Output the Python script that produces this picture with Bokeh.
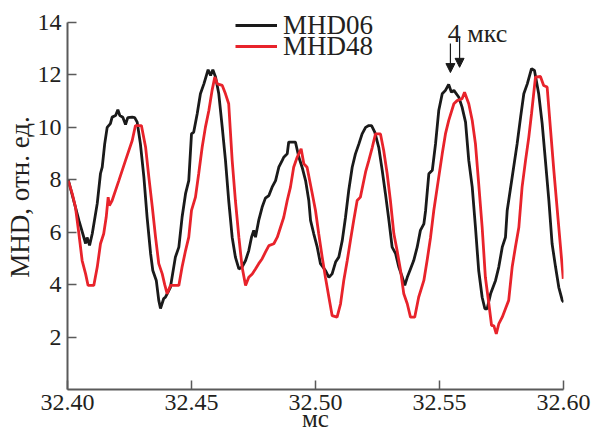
from bokeh.plotting import figure
from bokeh.models import (FixedTicker, Legend, LegendItem, Label, Arrow, NormalHead,
                          NumeralTickFormatter, Range1d)
from bokeh.embed import file_html
from bokeh.resources import INLINE

# ---- data (time in ms, MHD in relative units) ----
t_mhd06 = [32.4003, 32.4046, 32.4073, 32.4079, 32.4089, 32.4100, 32.4120, 32.4133, 32.4140, 32.4150,
           32.4160, 32.4173, 32.4180, 32.4194, 32.4203, 32.4211, 32.4223, 32.4234, 32.4243, 32.4261,
           32.4271, 32.4281, 32.4294, 32.4308, 32.4321, 32.4335, 32.4344, 32.4358, 32.4368, 32.4375,
           32.4388, 32.4395, 32.4415, 32.4435, 32.4449, 32.4462, 32.4476, 32.4489, 32.4500, 32.4509,
           32.4523, 32.4536, 32.4550, 32.4567, 32.4577, 32.4586, 32.4597, 32.4610, 32.4624, 32.4637,
           32.4650, 32.4664, 32.4677, 32.4691, 32.4704, 32.4718, 32.4731, 32.4742, 32.4751, 32.4758,
           32.4771, 32.4785, 32.4798, 32.4812, 32.4825, 32.4839, 32.4852, 32.4866, 32.4872, 32.4886,
           32.4892, 32.4919, 32.4933, 32.4946, 32.4960, 32.4973, 32.4980, 32.4993, 32.5007, 32.5020,
           32.5040, 32.5054, 32.5067, 32.5081, 32.5094, 32.5108, 32.5121, 32.5134, 32.5148, 32.5161,
           32.5175, 32.5188, 32.5202, 32.5215, 32.5226, 32.5239, 32.5255, 32.5269, 32.5282, 32.5296,
           32.5309, 32.5323, 32.5336, 32.5350, 32.5360, 32.5370, 32.5383, 32.5396, 32.5410, 32.5423,
           32.5437, 32.5444, 32.5457, 32.5471, 32.5484, 32.5497, 32.5511, 32.5524, 32.5537, 32.5548,
           32.5558, 32.5578, 32.5591, 32.5605, 32.5618, 32.5632, 32.5645, 32.5658, 32.5672, 32.5683,
           32.5692, 32.5706, 32.5726, 32.5739, 32.5753, 32.5766, 32.5773, 32.5793, 32.5813, 32.5827,
           32.5840, 32.5854, 32.5871, 32.5883, 32.5900, 32.5914, 32.5927, 32.5941, 32.5954, 32.5968,
           32.5981, 32.5995, 32.6001]
v_mhd06 = [8.0, 6.45, 5.57, 5.8, 5.5, 5.95, 7.1, 8.24, 8.48, 9.37,
           10.0, 10.14, 10.39, 10.45, 10.67, 10.45, 10.39, 10.11, 10.37, 10.39,
           10.37, 10.2, 9.37, 8.1, 6.57, 5.19, 4.54, 4.16, 3.4, 3.09,
           3.47, 3.52, 3.9, 5.05, 5.43, 6.57, 7.47, 7.97, 9.75, 9.82,
           10.52, 11.28, 11.66, 12.2, 11.98, 12.2, 11.92, 11.28, 10.0, 8.74,
           7.21, 5.81, 5.05, 4.6, 4.67, 4.92, 5.3, 5.81, 6.07, 5.81,
           6.45, 6.96, 7.3, 7.4, 7.72, 7.97, 8.48, 8.74, 8.86, 8.99,
           9.44, 9.44, 8.86, 8.48, 7.97, 7.21, 6.45, 5.94, 5.43, 4.8,
           4.54, 4.28, 4.41, 4.86, 5.05, 5.69, 6.57, 7.59, 8.48, 8.99,
           9.37, 9.75, 10.0, 10.07, 10.07, 9.82, 9.24, 8.36, 7.47, 6.45,
           5.43, 5.18, 4.67, 4.28, 3.97, 4.28, 4.6, 4.92, 5.43, 6.07,
           6.32, 6.83, 8.23, 8.36, 9.37, 10.64, 11.28, 11.41, 11.64, 11.34,
           11.41, 11.15, 10.77, 10.2, 8.74, 7.72, 6.19, 4.54, 3.52, 3.08,
           3.08, 3.65, 4.16, 4.67, 5.43, 5.81, 6.83, 8.1, 9.37, 10.39,
           11.28, 11.66, 12.24, 12.17, 11.28, 10.14, 8.74, 7.21, 5.56, 4.67,
           3.9, 3.4, 3.33]

t_mhd48 = [32.4003, 32.4019, 32.4032, 32.4046, 32.4059, 32.4073, 32.4083, 32.4106, 32.4120, 32.4133,
           32.4146, 32.4156, 32.4164, 32.4169, 32.4180, 32.4207, 32.4234, 32.4261, 32.4274, 32.4298,
           32.4315, 32.4328, 32.4342, 32.4355, 32.4368, 32.4382, 32.4392, 32.4402, 32.4415, 32.4449,
           32.4462, 32.4476, 32.4489, 32.4500, 32.4516, 32.4529, 32.4543, 32.4556, 32.4570, 32.4583,
           32.4594, 32.4604, 32.4624, 32.4637, 32.4650, 32.4664, 32.4677, 32.4691, 32.4704, 32.4718,
           32.4731, 32.4745, 32.4758, 32.4771, 32.4785, 32.4798, 32.4812, 32.4832, 32.4846, 32.4859,
           32.4872, 32.4886, 32.4899, 32.4912, 32.4926, 32.4942, 32.4953, 32.4966, 32.4987, 32.5000,
           32.5013, 32.5027, 32.5040, 32.5054, 32.5067, 32.5087, 32.5101, 32.5114, 32.5128, 32.5141,
           32.5154, 32.5168, 32.5181, 32.5202, 32.5215, 32.5229, 32.5242, 32.5262, 32.5275, 32.5289,
           32.5302, 32.5316, 32.5329, 32.5343, 32.5356, 32.5370, 32.5383, 32.5400, 32.5416, 32.5437,
           32.5450, 32.5464, 32.5477, 32.5491, 32.5511, 32.5524, 32.5537, 32.5558, 32.5571, 32.5591,
           32.5601, 32.5618, 32.5632, 32.5645, 32.5658, 32.5672, 32.5685, 32.5699, 32.5710, 32.5719,
           32.5729, 32.5739, 32.5753, 32.5766, 32.5779, 32.5793, 32.5806, 32.5820, 32.5833, 32.5847,
           32.5860, 32.5871, 32.5887, 32.5907, 32.5920, 32.5934, 32.5947, 32.5961, 32.5975, 32.5988,
           32.5999]
v_mhd48 = [7.97, 7.47, 6.96, 5.94, 4.92, 4.41, 3.97, 3.97, 4.67, 5.56,
           5.94, 6.57, 7.34, 7.02, 7.21, 7.97, 8.74, 9.5, 10.07, 10.07,
           9.24, 8.1, 6.96, 5.81, 4.8, 4.41, 4.0, 3.65, 3.97, 3.97,
           4.67, 5.3, 5.81, 6.83, 7.34, 8.23, 9.24, 10.0, 10.64, 11.41,
           11.92, 11.66, 11.6, 11.28, 10.9, 8.74, 7.21, 5.81, 4.67, 3.97,
           4.28, 4.41, 4.6, 4.8, 4.99, 5.24, 5.49, 5.56, 5.81, 6.19,
           6.57, 7.21, 7.72, 8.48, 8.86, 9.18, 8.61, 8.48, 7.47, 6.83,
           5.94, 5.05, 4.28, 3.52, 2.82, 2.76, 3.27, 4.16, 4.92, 5.69,
           6.45, 7.21, 7.34, 8.3, 8.74, 9.24, 9.75, 9.75, 9.12, 8.23,
           7.21, 5.94, 5.3, 4.54, 3.65, 3.27, 2.76, 2.76, 3.52, 4.16,
           4.92, 5.81, 6.83, 7.72, 8.99, 9.75, 10.26, 10.9, 11.02, 11.09,
           11.34, 10.9, 10.26, 9.37, 7.85, 6.19, 4.28, 3.27, 2.44, 2.44,
           2.12, 2.5, 2.76, 3.08, 3.4, 4.67, 5.43, 6.19, 7.72, 8.74,
           9.62, 10.52, 11.92, 11.94, 11.6, 11.54, 10.0, 8.36, 6.83, 5.43,
           4.22]

x_ticks = [32.40, 32.45, 32.50, 32.55, 32.60]
y_ticks = [2, 4, 6, 8, 10, 12, 14]
y_axis_span = (0, 14)
series_names = ["MHD06", "MHD48"]
series_colors = ["#1a1a1a", "#e8232b"]

# annotation "4 мкс" with two arrows (peak times of the two signals)
arrow_x = [32.5544, 32.5581]
arrow_y_start = [13.20, 13.43]
arrow_y_end = [12.09, 12.29]
note_text = "4 мкс"
note_x, note_y = 32.5653, 13.58

FONT = "Liberation Serif"
AX = "#5a5a5a"

# y range extends a little above 14 so that legend and note are not clipped
p = figure(width=594, height=441, output_backend="svg", toolbar_location=None,
           x_range=Range1d(32.40, 32.60), y_range=Range1d(0, 14.687),
           min_border_left=67, min_border_right=31, min_border_top=4, min_border_bottom=52)
p.outline_line_color = None
p.xgrid.visible = False
p.ygrid.visible = False

r06 = p.line(t_mhd06, v_mhd06, line_color=series_colors[0], line_width=2.8)
r48 = p.line(t_mhd48, v_mhd48, line_color=series_colors[1], line_width=2.8)

for ax in (p.xaxis[0], p.yaxis[0]):
    ax.axis_line_color = AX
    ax.axis_line_width = 2
    ax.major_tick_line_color = AX
    ax.major_tick_line_width = 1.5
    ax.major_tick_in = 9
    ax.major_tick_out = 0
    ax.minor_tick_line_color = None
    ax.major_label_text_font = FONT
    ax.major_label_text_font_size = "24px"
    ax.major_label_text_color = "#231f20"
    ax.axis_label_text_font = FONT
    ax.axis_label_text_font_style = "normal"
    ax.axis_label_text_color = "#231f20"

p.xaxis.ticker = FixedTicker(ticks=x_ticks)
p.xaxis.formatter = NumeralTickFormatter(format="0.00")
p.xaxis.major_label_standoff = 5
p.xaxis.axis_label = "мс"
p.xaxis.axis_label_text_font_size = "25px"
p.xaxis.axis_label_standoff = -8

p.yaxis.ticker = FixedTicker(ticks=y_ticks)
p.yaxis.bounds = y_axis_span
p.yaxis.major_label_standoff = 6
p.yaxis.axis_label = "MHD, отн. ед."
p.yaxis.axis_label_text_font_size = "27px"
p.yaxis.axis_label_standoff = 0

legend_style = dict(orientation="vertical", label_text_font=FONT, label_text_font_size="27px",
                    label_text_color="#231f20", glyph_width=42, glyph_height=32,
                    label_height=32, label_standoff=6, spacing=0, padding=0, margin=0,
                    border_line_color=None, background_fill_alpha=0)
legend_bottoms = [348, 327]
for name, rend, vb in zip(series_names, [r06, r48], legend_bottoms):
    p.add_layout(Legend(items=[LegendItem(label=name, renderers=[rend])],
                        location=(168, vb), **legend_style), "center")

for xa, ys, ye in zip(arrow_x, arrow_y_start, arrow_y_end):
    p.add_layout(Arrow(x_start=xa, y_start=ys, x_end=xa, y_end=ye,
                       line_color="#1a1a1a", line_width=1.2,
                       end=NormalHead(size=9, fill_color="#1a1a1a", line_color="#1a1a1a")))

p.add_layout(Label(x=note_x, y=note_y, text=note_text, text_align="center",
                   text_baseline="alphabetic", text_font=FONT, text_font_size="26px",
                   text_color="#231f20"))

open("out.html", "w").write(file_html(p, INLINE))
